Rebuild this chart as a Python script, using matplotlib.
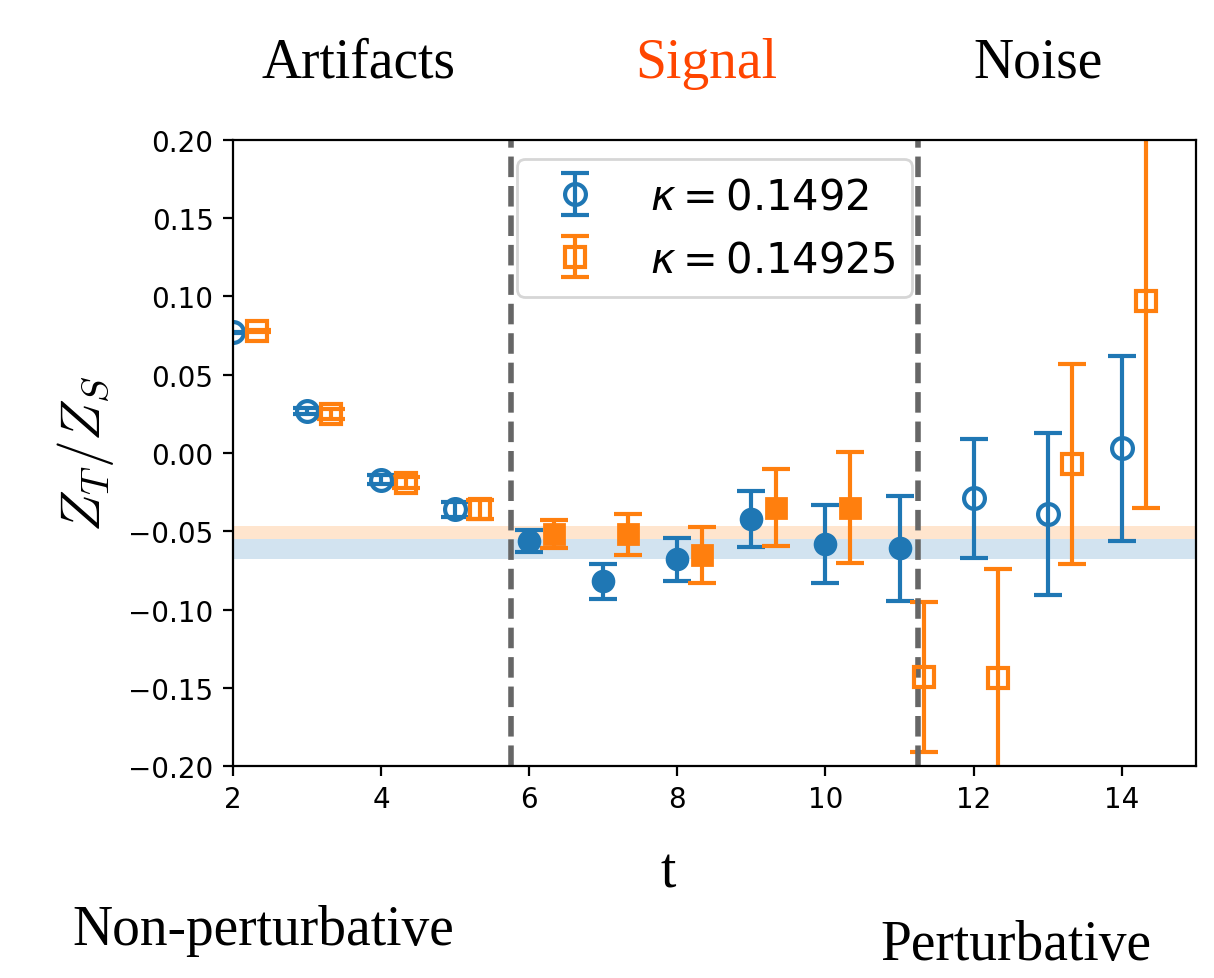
import numpy as np
import matplotlib
matplotlib.use('Agg')
import matplotlib.pyplot as plt

# t values and Z_T/Z_S for the two kappas
t_vals = np.array([2, 3, 4, 5, 6, 7, 8, 9, 10, 11, 12, 13, 14])
shift = 0.33

blue_y = np.array([0.077, 0.027, -0.017, -0.036, -0.056, -0.082, -0.068,
                   -0.042, -0.058, -0.061, -0.029, -0.039, 0.003])
blue_err = np.array([0.0005, 0.002, 0.003, 0.005, 0.007, 0.011, 0.014,
                     0.018, 0.025, 0.0335, 0.038, 0.052, 0.059])

orange_y = np.array([0.078, 0.025, -0.019, -0.036, -0.052, -0.052, -0.065,
                     -0.035, -0.035, -0.143, -0.144, -0.007, 0.097])
orange_err = np.array([0.0005, 0.003, 0.0035, 0.006, 0.009, 0.013, 0.018,
                       0.0245, 0.0355, 0.048, 0.07, 0.064, 0.132])

labels = [r'$\kappa = 0.1492$', r'$\kappa = 0.14925$']
y_ticks = [-0.20, -0.15, -0.10, -0.05, 0.00, 0.05, 0.10, 0.15, 0.20]

# fit bands (low, high)
blue_band = (-0.0677, -0.055)
orange_band = (-0.055, -0.0466)

# window boundaries
t_min, t_max = 5.75, 11.25


def main():
    fig = plt.figure(figsize=(6.07, 4.895), dpi=200)
    ax = fig.add_axes([0.1919, 0.2165, 0.7931, 0.6395])

    ax.axhspan(*blue_band, color='C0', alpha=0.2, lw=0)
    ax.axhspan(*orange_band, color='C1', alpha=0.2, lw=0)

    series = [(t_vals, blue_y, blue_err, 'C0', 'o'),
              (t_vals + shift, orange_y, orange_err, 'C1', 's')]
    handles = []
    for (x, y, e, c, m), lab in zip(series, labels):
        inside = (x > t_min) & (x < t_max)
        out = ~inside
        h = ax.errorbar(x[out], y[out], yerr=e[out], fmt=m, color=c,
                        mfc='none', mec=c, ms=7.5, mew=1.5, capsize=5,
                        elinewidth=1.5, capthick=1.5, label=lab)
        ax.errorbar(x[inside], y[inside], yerr=e[inside], fmt=m, color=c,
                    ms=7.5, capsize=5, elinewidth=1.5, capthick=1.5)
        handles.append(h)

    ax.axvline(t_min, color='#666666', ls='--', lw=2)
    ax.axvline(t_max, color='#666666', ls='--', lw=2)

    ax.set_xlim(2, 15)
    ax.set_ylim(-0.2, 0.2)
    ax.set_xticks([2, 4, 6, 8, 10, 12, 14])
    ax.set_yticks(y_ticks)
    ax.set_yticklabels([f'{v:.2f}'.replace('-', '\u2212') for v in y_ticks])
    ax.set_ylabel(r'$Z_T/Z_S$', fontsize=20, labelpad=4.5, math_fontfamily='cm')

    ax.legend(handles=handles, loc='upper center', fontsize=15,
              borderaxespad=0.45)

    serif = 'Liberation Serif'
    fig.text(358 / 1214, 1 - 78 / 979, 'Artifacts', ha='center', va='baseline',
             family=serif, fontsize=20)
    fig.text(706 / 1214, 1 - 78 / 979, 'Signal', ha='center', va='baseline',
             family=serif, fontsize=20, color='orangered')
    fig.text(1038 / 1214, 1 - 78 / 979, 'Noise', ha='center', va='baseline',
             family=serif, fontsize=20)
    fig.text(668 / 1214, 1 - 888 / 979, 't', ha='center', va='baseline',
             family=serif, fontsize=20)
    fig.text(72 / 1214, 1 - 945 / 979, 'Non-perturbative', ha='left', va='baseline',
             family=serif, fontsize=20)
    fig.text(880 / 1214, 1 - 960 / 979, 'Perturbative', ha='left', va='baseline',
             family=serif, fontsize=20)

    fig.savefig('out.png', dpi=200)


if __name__ == "__main__":
    main()
